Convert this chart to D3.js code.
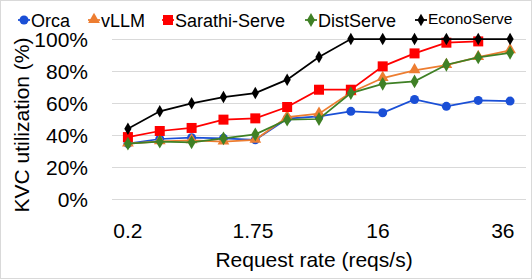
<!DOCTYPE html>
<html>
<head>
<meta charset="utf-8">
<script src="https://cdn.jsdelivr.net/npm/d3@7"></script>
<style>
  body { margin: 0; background: #fff; }
  text { font-family: "Liberation Sans", Arial, sans-serif; fill: #000; }
</style>
</head>
<body>
<div id="chart"></div>
<script>
// request rates, only some are labelled on the axis
var rateLabels = ["0.2", "", "", "", "1.75", "", "", "", "16", "", "", "", "36"];

var orca      = [34.6, 37.5, 38.3, 37.9, 37.0, 50.2, 51.6, 54.8, 53.9, 62.2, 57.9, 61.6, 61.2];
var vllm      = [34.6, 36.0, 36.6, 35.8, 37.0, 51.2, 53.3, 66.6, 75.6, 80.4, 83.7, 88.7, 92.9];
var sarathi   = [38.7, 42.5, 44.4, 49.6, 50.4, 57.5, 68.3, 68.3, 82.9, 91.0, 97.7, 98.5, null];
var distserve = [34.6, 35.8, 35.4, 37.9, 40.4, 49.6, 50.0, 66.2, 72.0, 73.5, 83.9, 88.5, 91.4];
var econo     = [43.9, 54.8, 59.8, 63.7, 66.2, 74.6, 88.7, 100, 100, 100, 100, 100, 100];

var yTicks = [0, 20, 40, 60, 80, 100];

var series = [
  {name: "Orca", values: orca, color: "#1a4fd6", shape: "circle"},
  {name: "vLLM", values: vllm, color: "#ed7d31", shape: "triangle"},
  {name: "Sarathi-Serve", values: sarathi, color: "#ff0000", shape: "square"},
  {name: "DistServe", values: distserve, color: "#3f8025", shape: "diamond"},
  {name: "EconoServe", values: econo, color: "#000000", shape: "diamond"}
];

var width = 532, height = 279;
var margin = {left: 112, right: 6, top: 39, bottom: 80};

var svg = d3.select("#chart").append("svg")
  .attr("width", width)
  .attr("height", height);

svg.append("rect")
  .attr("x", 0.5).attr("y", 0.5)
  .attr("width", width - 1).attr("height", height - 1)
  .attr("fill", "#fff")
  .attr("stroke", "#d9d9d9");

var x = d3.scaleBand()
  .domain(d3.range(rateLabels.length))
  .range([margin.left, width - margin.right]);

var y = d3.scaleLinear()
  .domain([0, 100])
  .range([height - margin.bottom, margin.top]);

function cx(i) { return x(i) + x.bandwidth() / 2; }

// gridlines
svg.append("g").selectAll("line")
  .data(yTicks)
  .enter().append("line")
  .attr("x1", margin.left).attr("x2", width - margin.right)
  .attr("y1", function(d) { return Math.round(y(d)) + 0.5; })
  .attr("y2", function(d) { return Math.round(y(d)) + 0.5; })
  .attr("stroke", "#d9d9d9")
  .attr("stroke-width", 1);

// y tick labels
svg.append("g").selectAll("text")
  .data(yTicks)
  .enter().append("text")
  .attr("x", 88)
  .attr("y", function(d) { return y(d); })
  .attr("dy", "0.36em")
  .attr("text-anchor", "end")
  .attr("font-size", 21)
  .text(function(d) { return d + "%"; });

// x tick labels
svg.append("g").selectAll("text")
  .data(rateLabels)
  .enter().append("text")
  .attr("x", function(d, i) { return cx(i) - i * 0.6; })
  .attr("y", 238)
  .attr("text-anchor", "middle")
  .attr("font-size", 21)
  .text(function(d) { return d; });

svg.append("text")
  .attr("x", 314).attr("y", 267)
  .attr("text-anchor", "middle")
  .attr("font-size", 21)
  .text("Request rate (reqs/s)");

svg.append("text")
  .attr("transform", "translate(29,125) rotate(-90)")
  .attr("text-anchor", "middle")
  .attr("font-size", 21)
  .text("KVC utilization (%)");

function marker(g, shape, color, px, py, big) {
  if (shape == "circle") {
    g.append("circle").attr("cx", px).attr("cy", py).attr("r", 4.5).attr("fill", color);
  } else if (shape == "square") {
    g.append("rect").attr("x", px - 5).attr("y", py - 5).attr("width", 10).attr("height", 10).attr("fill", color);
  } else if (shape == "triangle") {
    g.append("path").attr("d", d3.symbol().type(d3.symbolTriangle).size(60)())
      .attr("transform", "translate(" + px + "," + (py - 0.5) + ")").attr("fill", color);
  } else {
    g.append("path").attr("d", d3.symbol().type(d3.symbolDiamond).size(big ? 55 : 45)())
      .attr("transform", "translate(" + px + "," + py + ")").attr("fill", color);
  }
}

var line = d3.line()
  .defined(function(d) { return d != null; })
  .x(function(d, i) { return cx(i); })
  .y(function(d) { return y(d); });

series.forEach(function(s) {
  var g = svg.append("g");
  g.append("path")
    .datum(s.values)
    .attr("d", line)
    .attr("fill", "none")
    .attr("stroke", s.color)
    .attr("stroke-width", 1.75);
  s.values.forEach(function(v, i) {
    if (v != null) marker(g, s.shape, s.color, cx(i), y(v), s.name == "DistServe");
  });
});

// legend
var legendX = [18, 88, 162, 305, 415];
series.forEach(function(s, i) {
  var g = svg.append("g");
  g.append("line")
    .attr("x1", legendX[i]).attr("x2", legendX[i] + 12)
    .attr("y1", 20).attr("y2", 20)
    .attr("stroke", s.color).attr("stroke-width", 1.75);
  marker(g, s.shape, s.color, legendX[i] + 6, 20, s.name == "DistServe");
  g.append("text")
    .attr("x", legendX[i] + 13)
    .attr("y", s.name == "EconoServe" ? 24 : 26.5)
    .attr("font-size", s.name == "EconoServe" ? 15.5 : 18)
    .text(s.name);
});
</script>
</body>
</html>
